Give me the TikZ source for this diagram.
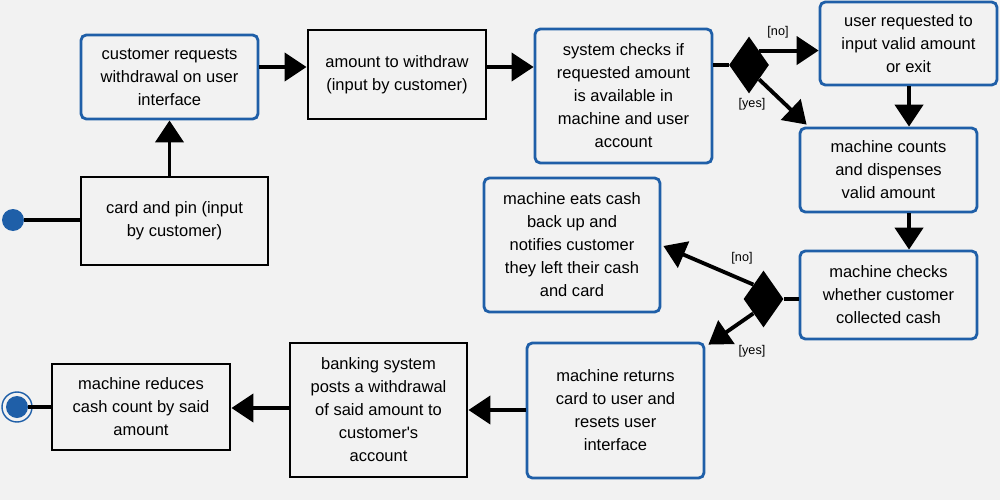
\documentclass[tikz,border=0pt]{standalone}
\usepackage{fontspec}
\setmainfont{Liberation Sans}[Ligatures=TeXOff]
\usetikzlibrary{arrows.meta,shapes.geometric,calc}
\definecolor{bg}{HTML}{F2F2F2}
\definecolor{myblue}{HTML}{1F5FA8}
\begin{document}
\begin{tikzpicture}[x=0.02cm,y=-0.02cm,
 boxbase/.style={line width=1.6pt,fill=bg,align=center,inner sep=0pt,font=\fontsize{9.4}{13.1}\selectfont},
 bluebox/.style={boxbase,draw=myblue,rounded corners=3pt},
 blackbox/.style={boxbase,draw=black},
 sz/.style 2 args={minimum width=#1*0.02cm,minimum height=#2*0.02cm},
 arr/.style={line width=2.2pt,-{Triangle[length=12.5pt,width=16pt]}},
 conn/.style={line width=2.2pt},
 dec/.style={diamond,fill=black,inner sep=0pt,minimum width=40*0.02cm,minimum height=57*0.02cm},
 lbl/.style={font=\fontsize{7.2}{8}\selectfont,inner sep=0pt}
]
\fill[bg] (0,0) rectangle (1000,500);
\useasboundingbox (0,0) rectangle (1000,500);

\node[bluebox,sz={177}{84}] (cust) at (169.5,77) {customer requests\\withdrawal on user\\interface};
\node[blackbox,sz={187}{88}] (card) at (174.5,221) {card and pin (input\\by customer)};
\node[blackbox,sz={178}{89}] (amt) at (397,74.5) {amount to withdraw\\(input by customer)};
\node[bluebox,sz={177}{134}] (sys) at (623.5,96) {system checks if\\requested amount\\is available in\\machine and user\\account};
\node[bluebox,sz={177}{83}] (ureq) at (908.5,43.5) {user requested to\\input valid amount\\or exit};
\node[bluebox,sz={177}{84}] (counts) at (888.5,170) {machine counts\\and dispenses\\valid amount};
\node[bluebox,sz={177}{88}] (chk) at (888.5,295) {machine checks\\whether customer\\collected cash};
\node[bluebox,sz={176}{134}] (eats) at (572,245) {machine eats cash\\back up and\\notifies customer\\they left their cash\\and card};
\node[bluebox,sz={177}{135}] (ret) at (615.5,410.5) {machine returns\\card to user and\\resets user\\interface};
\node[blackbox,sz={177}{134}] (bank) at (378.5,410) {banking system\\posts a withdrawal\\of said amount to\\customer's\\account};
\node[blackbox,sz={178}{86}] (red) at (141,407) {machine reduces\\cash count by said\\amount};

\node[dec] (d1) at (749,65) {};
\node[dec] (d2) at (763.5,299) {};

\node[circle,fill=myblue,inner sep=0pt,minimum size=22*0.02cm] (start) at (13,220) {};
\node[circle,fill=myblue,inner sep=0pt,minimum size=22*0.02cm] (end) at (17,407) {};
\draw[myblue,line width=0.8pt] (end.center) circle[radius=15];

\draw[conn] (start) -- (card.west |- start);
\draw[arr] (card.north -| cust.south) -- (cust.south);
\draw[arr] (cust.east |- 0,67) -- (amt.west |- 0,67);
\draw[arr] (amt.east |- 0,67) -- (sys.west |- 0,67);
\draw[conn] (sys.east |- d1) -- (d1.west);
\draw[arr] (d1.north east) -- (d1.north east -| ureq.west);
\draw[arr] (d1.south east) -- ($(counts.north west)+(8,-2)$);
\draw[arr] (ureq.south -| 909,0) -- (counts.north -| 909,0);
\draw[arr] (counts.south -| 909,0) -- (chk.north -| 909,0);
\draw[conn] (chk.west |- d2) -- (d2.east);
\draw[arr] (d2.north west) -- ($(eats.east)+(2,1)$);
\draw[arr] (d2.south west) -- ($(ret.north east)+(3,3)$);
\draw[arr] (ret.west |- 0,410) -- (bank.east |- 0,410);
\draw[arr] (bank.west |- 0,408) -- (red.east |- 0,408);
\draw[conn] (end) -- (red.west |- end);

\node[lbl] (l1) at (778,32) {[no]};
\node[lbl] (l2) at (752,104) {[yes]};
\node[lbl] (l3) at (742,258) {[no]};
\node[lbl] (l4) at (752,351) {[yes]};
\end{tikzpicture}
\end{document}
